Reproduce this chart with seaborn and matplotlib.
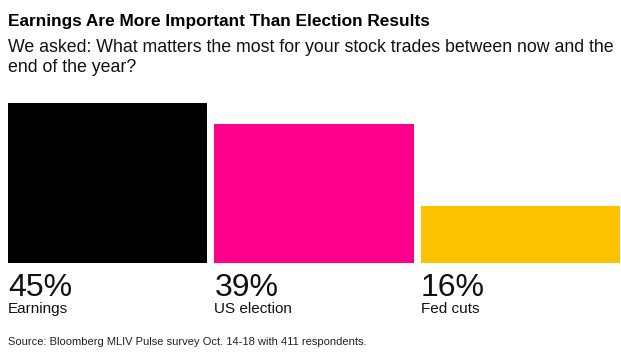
import matplotlib
matplotlib.use("Agg")
import matplotlib.pyplot as plt
import seaborn as sns
import pandas as pd

# data
categories = ["Earnings", "US election", "Fed cuts"]
shares = [45, 39, 16]
colors = ["#000000", "#FF008C", "#FFC200"]

title = "Earnings Are More Important Than Election Results"
subtitle_1 = "We asked: What matters the most for your stock trades between now and the"
subtitle_2 = "end of the year?"
source = "Source: Bloomberg MLIV Pulse survey Oct. 14-18 with 411 respondents."

sns.set_theme(style="white")
plt.rcParams["font.family"] = ["Liberation Sans", "DejaVu Sans"]

W, H = 621, 355
fig = plt.figure(figsize=(W / 100, H / 100), dpi=100)
ax = fig.add_axes([8 / W, (H - 263) / H, 612 / W, 160 / H])

df = pd.DataFrame({"cat": categories, "share": shares})
bw = 0.9637
sns.barplot(data=df, x="cat", y="share", hue="cat", palette=colors,
            width=bw, saturation=1, legend=False, linewidth=0, ax=ax)

ax.set_xlim(-bw / 2, len(categories) - 1 + bw / 2)
ax.set_ylim(0, max(shares))
ax.set_axis_off()

for i, (cat, val) in enumerate(zip(categories, shares)):
    x0 = i - bw / 2
    ax.annotate(f"{val}%", xy=(x0, 0), xytext=(0, -23.8), textcoords="offset points",
                ha="left", va="baseline", fontsize=23, color="#111111")
    ax.annotate(cat, xy=(x0, 0), xytext=(0, -36), textcoords="offset points",
                ha="left", va="baseline", fontsize=11, color="#111111")

x_left = 8 / W
fig.text(x_left, 1 - 25.7 / H, title, fontsize=12.4, fontweight="bold",
         ha="left", va="baseline", color="#000000")
fig.text(x_left, 1 - 51.7 / H, subtitle_1, fontsize=12.8,
         ha="left", va="baseline", color="#111111")
fig.text(x_left, 1 - 72 / H, subtitle_2, fontsize=12.8,
         ha="left", va="baseline", color="#111111")
fig.text(x_left, 1 - 345 / H, source, fontsize=8.0,
         ha="left", va="baseline", color="#222222")

fig.savefig("out.png", dpi=100)
plt.close(fig)
